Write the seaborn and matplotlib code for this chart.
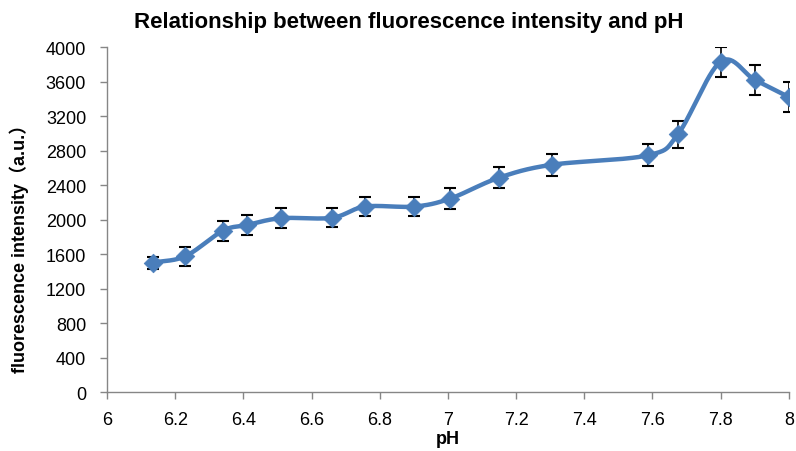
import numpy as np
import pandas as pd
import matplotlib
matplotlib.use("Agg")
import matplotlib.pyplot as plt
import seaborn as sns

ph = [6.135, 6.23, 6.34, 6.41, 6.51, 6.66, 6.757, 6.90, 7.005, 7.15, 7.305, 7.587, 7.675, 7.80, 7.90, 8.0]
intensity = [1500, 1575, 1870, 1935, 2015, 2020, 2150, 2150, 2240, 2485, 2635, 2745, 2990, 3830, 3620, 3420]
err = [70, 110, 115, 115, 115, 110, 115, 115, 120, 120, 127, 127, 157, 174, 175, 175]

sns.set_theme(style="white")
plt.rcParams['font.family'] = ['Liberation Sans', 'DejaVu Sans']
plt.rcParams['text.color'] = 'black'
plt.rcParams['axes.labelcolor'] = 'black'

df = pd.DataFrame({"pH": ph, "I": intensity, "err": err})

# Catmull-Rom smoothing of the series (Excel "smoothed line" style)
def catmull(x, y, n=30):
    x = np.asarray(x, float); y = np.asarray(y, float)
    px = np.concatenate([[2*x[0]-x[1]], x, [2*x[-1]-x[-2]]])
    py = np.concatenate([[2*y[0]-y[1]], y, [2*y[-1]-y[-2]]])
    xs, ys = [], []
    t = np.linspace(0, 1, n, endpoint=False)
    for i in range(1, len(px)-2):
        p0x, p1x, p2x, p3x = px[i-1:i+3]
        p0y, p1y, p2y, p3y = py[i-1:i+3]
        for tt in t:
            t2, t3 = tt*tt, tt*tt*tt
            xs.append(0.5*((2*p1x) + (-p0x+p2x)*tt + (2*p0x-5*p1x+4*p2x-p3x)*t2 + (-p0x+3*p1x-3*p2x+p3x)*t3))
            ys.append(0.5*((2*p1y) + (-p0y+p2y)*tt + (2*p0y-5*p1y+4*p2y-p3y)*t2 + (-p0y+3*p1y-3*p2y+p3y)*t3))
    xs.append(x[-1]); ys.append(y[-1])
    return np.array(xs), np.array(ys)

sx, sy = catmull(ph, intensity)
smooth = pd.DataFrame({"pH": sx, "I": sy})

fig = plt.figure(figsize=(7.96, 4.52), dpi=100)
ax = fig.add_axes([0.1344, 0.1305, 0.8566, 0.7633])

ax.errorbar(df["pH"], df["I"], yerr=df["err"], fmt="none", ecolor="black",
            elinewidth=1.2, capsize=4, capthick=1.5, zorder=2)
sns.lineplot(data=smooth, x="pH", y="I", ax=ax, color="#4A7EBB", linewidth=3.2,
             sort=False, estimator=None, zorder=3)
sns.scatterplot(data=df, x="pH", y="I", ax=ax, marker="D", s=90, color="#4A7EBB",
                edgecolor="#4A7EBB", linewidth=0.5, zorder=4)

ax.set_xlim(6, 8)
ax.set_ylim(0, 4000)
ax.set_xticks(np.arange(6, 8.01, 0.2))
ax.set_xticklabels(["6", "6.2", "6.4", "6.6", "6.8", "7", "7.2", "7.4", "7.6", "7.8", "8"])
ax.set_yticks(np.arange(0, 4001, 400))

for s in ["top", "right"]:
    ax.spines[s].set_visible(False)
for s in ["left", "bottom"]:
    ax.spines[s].set_color("#868686")
    ax.spines[s].set_linewidth(1.0)
ax.tick_params(axis="both", which="both", direction="out", length=5, width=1.0,
               color="#868686", labelsize=13, labelcolor="black", bottom=True, left=True)
ax.tick_params(axis="x", pad=9)
ax.tick_params(axis="y", pad=10)

ax.set_xlabel("pH", fontsize=13, fontweight="bold", labelpad=1, color="black")
ax.set_ylabel("fluorescence intensity（a.u.）", fontsize=13, fontweight="bold",
              family=['Liberation Sans', 'Noto Sans CJK SC'], color="black")
ax.yaxis.set_label_coords(-0.114, 0.43)
fig.text(0.514, 0.95, "Relationship between fluorescence intensity and pH",
         ha="center", va="center", fontsize=16, fontweight="bold", color="black")

fig.savefig("out.png", dpi=100)
